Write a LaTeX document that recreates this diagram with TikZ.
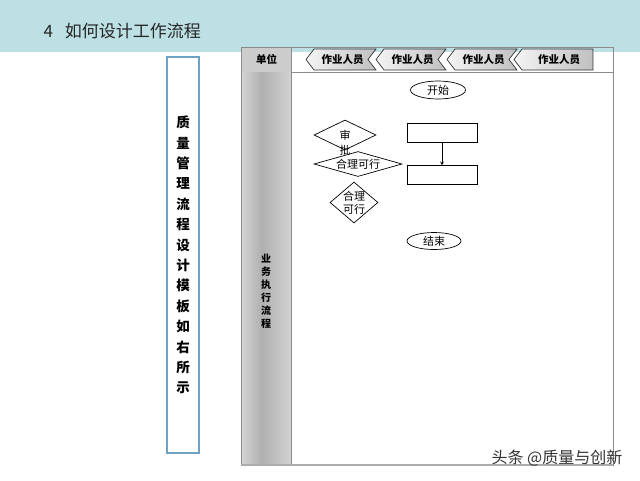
\documentclass[tikz,border=0pt]{standalone}
\usepackage{fontspec}
\setmainfont{Liberation Sans}
\newfontfamily\cjk{Noto Sans CJK SC}
\usetikzlibrary{shapes.geometric, shapes.symbols, arrows, positioning}
\definecolor{bandteal}{RGB}{188,224,227}
\definecolor{boxblue}{RGB}{112,162,196}
\definecolor{framegray}{RGB}{140,140,140}
\pgfdeclarehorizontalshading{colshade}{100bp}{color(0bp)=(gray!10); color(12bp)=(gray!18); color(45bp)=(gray!62); color(100bp)=(gray!12)}
\tikzstyle{arrow} = [line width=0.7pt,->,>=stealth]
\tikzstyle{terminal}=[line width=0.7pt,draw=black,ellipse,minimum width=55pt,minimum height=18pt,inner sep=0pt]
\tikzstyle{process}=[line width=0.7pt,draw=black,rectangle,minimum width=70pt,minimum height=19pt]
\tikzstyle{decision}=[line width=0.7pt,draw=black,diamond,inner sep=0pt]
\tikzstyle{lane}=[draw=gray!40!black,line width=0.7pt,signal,signal to=west,signal pointer angle=105,left color=gray!8,right color=gray!50,minimum width=70pt,minimum height=21pt,inner sep=0pt,font=\cjk\bfseries\fontsize{10.5}{12}\selectfont]

\begin{document}
\begin{tikzpicture}[x=1pt,y=-1pt,>=stealth,font=\cjk\fontsize{11}{13}\selectfont]
	\useasboundingbox (0,0) rectangle (640,480);
	\fill[bandteal] (0,0) rectangle (640,52);
	\node[anchor=west,font=\cjk\fontsize{17}{20}\selectfont,text=black!85] (title) at (40,31) {4\hspace{12pt}如何设计工作流程};
	
	% left note
	\node[draw=boxblue,line width=1.1pt,minimum width=32pt,minimum height=396pt,inner sep=0pt,align=center,font=\cjk\bfseries\fontsize{13.5}{20.4}\selectfont] (intro) at (183,255) {质\\量\\管\\理\\流\\程\\设\\计\\模\\板\\如\\右\\所\\示};
	
	% swimlane frame
	\node[shading=colshade,minimum width=49pt,minimum height=393pt,inner sep=0pt,anchor=north west] (sidecol) at (242,72) {};
	\node[fill=gray!40,minimum width=49pt,minimum height=25pt,inner sep=0pt,anchor=north west,font=\cjk\bfseries\fontsize{10.5}{12}\selectfont] (unit) at (242,47) {单位};
	\node[align=center,font=\cjk\bfseries\fontsize{10}{13}\selectfont] (colname) at (266,291) {业\\务\\执\\行\\流\\程};
	\draw[framegray] (241,47) rectangle (613,465);
	\draw[framegray] (291,47) -- (291,465);
	\draw[framegray] (291,72) -- (613,72);
	\draw[gray!65,line width=1.6pt] (241,465) -- (613,465);
	
	\node[lane,signal from=east] (laneA) at (341,59.5) {\hspace{3pt}作业人员};
	\node[lane,signal from=east] (laneB) at (411,59.5) {\hspace{3pt}作业人员};
	\node[lane,signal from=east] (laneC) at (482,59.5) {\hspace{3pt}作业人员};
	\node[lane,minimum width=79pt] (laneD) at (557.5,59.5) {\hspace{3pt}作业人员};
	
	% flow
	\node[terminal] (start) at (438,90) {开始};
	\node[process] (taskA) at (442,132.5) {};
	\node[process,below=23pt of taskA] (taskB) {};
	\draw[arrow] (taskA) -- (taskB);
	\node[decision,minimum width=62pt,minimum height=30pt,label={[anchor=center,inner sep=0pt]south:批}] (approve) at (345,135) {审};
	\node[decision,aspect=3.5,minimum width=88pt,minimum height=25pt] (feasible) at (358,164) {合理可行};
	\node[decision,inner sep=-3pt,align=center,minimum width=48pt,minimum height=41pt] (check) at (354,202.5) {合理\\可行};
	\node[terminal,minimum width=54pt,minimum height=17pt] (finish) at (434,241) {结束};
	
	\node[font=\cjk\fontsize{16}{19}\selectfont,text=black!80] (mark) at (557,458) {头条 @质量与创新};
\end{tikzpicture}
\end{document}
